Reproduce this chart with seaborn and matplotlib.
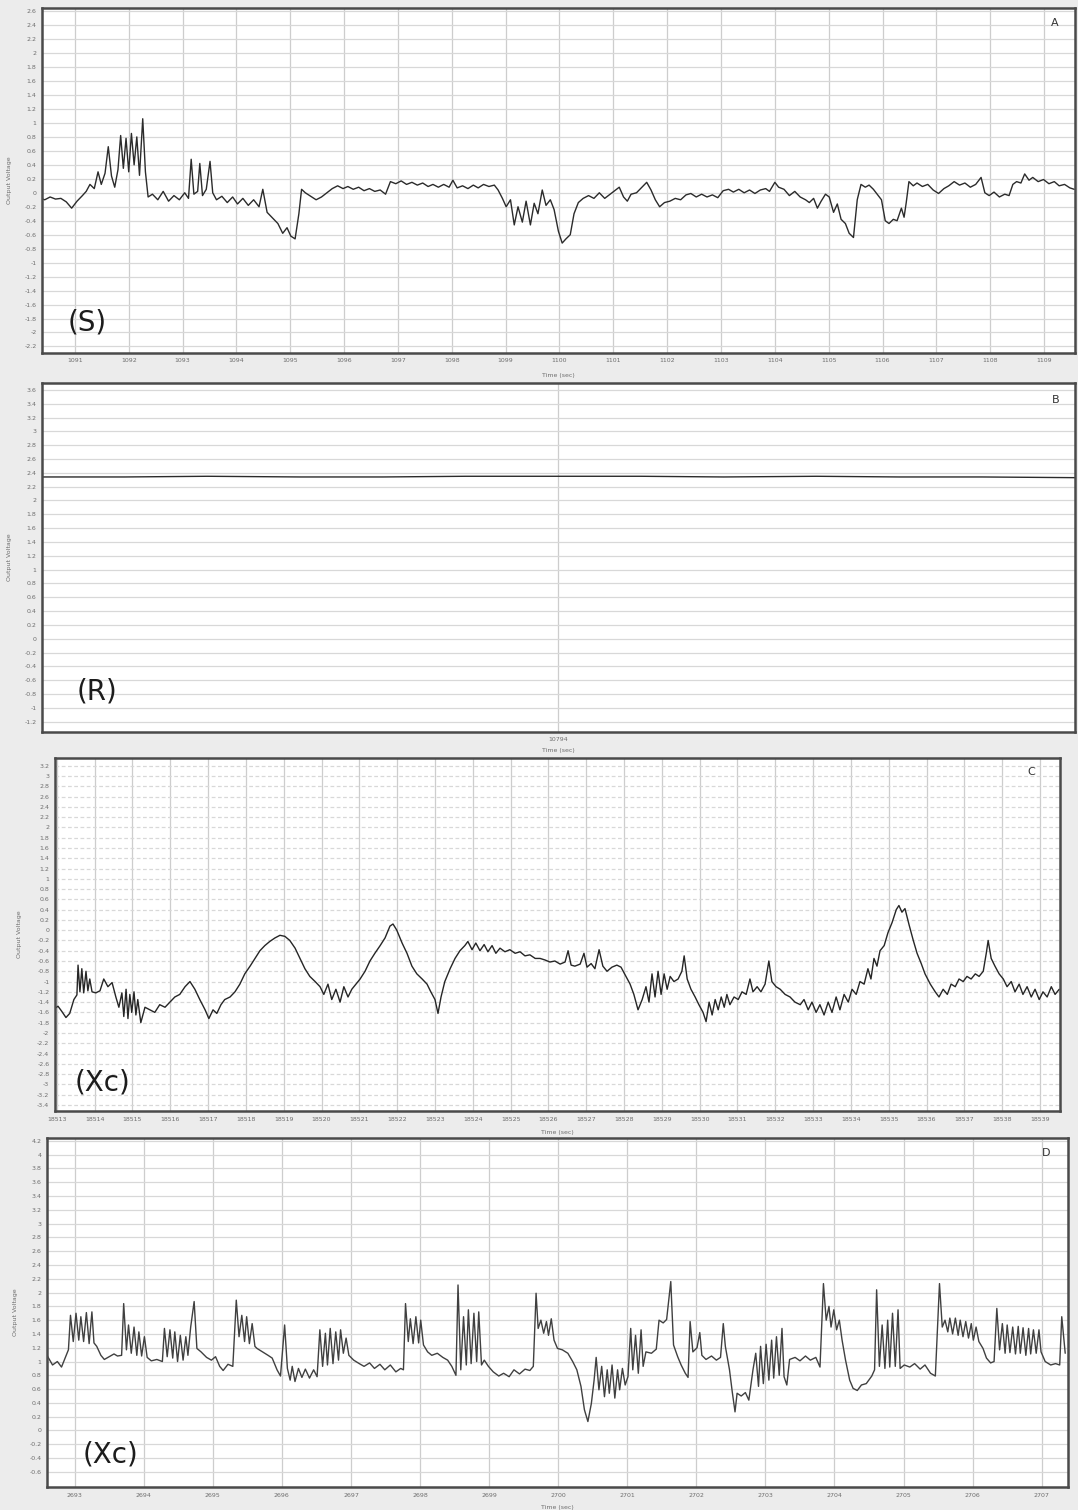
import numpy as np
import matplotlib
matplotlib.use("Agg")
import matplotlib.pyplot as plt
from matplotlib.ticker import FuncFormatter
import seaborn as sns

# ---- panel A: (S) ----
s_time = [1090.32, 1090.44, 1090.54, 1090.64, 1090.74, 1090.84, 1090.94, 1091.04, 1091.14, 1091.21,
          1091.28, 1091.36, 1091.43, 1091.49, 1091.56, 1091.62, 1091.68, 1091.74, 1091.80, 1091.85,
          1091.90, 1091.95, 1092.00, 1092.05, 1092.10, 1092.15, 1092.20, 1092.26, 1092.31, 1092.36,
          1092.44, 1092.54, 1092.64, 1092.74, 1092.84, 1092.94, 1093.04, 1093.11, 1093.16, 1093.21,
          1093.28, 1093.32, 1093.37, 1093.44, 1093.51, 1093.56, 1093.63, 1093.73, 1093.83, 1093.93,
          1094.02, 1094.12, 1094.22, 1094.32, 1094.42, 1094.49, 1094.57, 1094.67, 1094.77, 1094.86,
          1094.94, 1095.01, 1095.09, 1095.16, 1095.21, 1095.28, 1095.38, 1095.48, 1095.58, 1095.68,
          1095.78, 1095.88, 1095.98, 1096.07, 1096.17, 1096.27, 1096.37, 1096.47, 1096.57, 1096.67,
          1096.77, 1096.86, 1096.96, 1097.06, 1097.16, 1097.26, 1097.36, 1097.46, 1097.56, 1097.65,
          1097.75, 1097.85, 1097.95, 1098.02, 1098.10, 1098.20, 1098.30, 1098.40, 1098.49, 1098.59,
          1098.69, 1098.79, 1098.86, 1098.94, 1099.01, 1099.09, 1099.16, 1099.23, 1099.31, 1099.38,
          1099.46, 1099.53, 1099.60, 1099.68, 1099.75, 1099.83, 1099.90, 1099.98, 1100.05, 1100.12,
          1100.20, 1100.27, 1100.35, 1100.44, 1100.54, 1100.64, 1100.74, 1100.84, 1100.94, 1101.04,
          1101.11, 1101.19, 1101.26, 1101.33, 1101.43, 1101.53, 1101.62, 1101.70, 1101.78, 1101.86,
          1101.95, 1102.05, 1102.15, 1102.25, 1102.35, 1102.44, 1102.54, 1102.64, 1102.74, 1102.84,
          1102.94, 1103.04, 1103.14, 1103.23, 1103.33, 1103.43, 1103.53, 1103.63, 1103.73, 1103.83,
          1103.90, 1104.00, 1104.07, 1104.17, 1104.27, 1104.37, 1104.47, 1104.57, 1104.64, 1104.72,
          1104.79, 1104.86, 1104.94, 1105.01, 1105.09, 1105.16, 1105.23, 1105.31, 1105.38, 1105.46,
          1105.53, 1105.60, 1105.68, 1105.75, 1105.83, 1105.90, 1105.98, 1106.05, 1106.12, 1106.20,
          1106.27, 1106.35, 1106.40, 1106.44, 1106.49, 1106.57, 1106.64, 1106.74, 1106.84, 1106.94,
          1107.04, 1107.14, 1107.23, 1107.33, 1107.43, 1107.53, 1107.63, 1107.73, 1107.83, 1107.90,
          1107.98, 1108.07, 1108.17, 1108.27, 1108.35, 1108.42, 1108.49, 1108.57, 1108.64, 1108.72,
          1108.79, 1108.89, 1108.99, 1109.09, 1109.19, 1109.28, 1109.38, 1109.48, 1109.56]
s_volt = [-0.07, -0.10, -0.06, -0.09, -0.08, -0.13, -0.22, -0.12, -0.04, 0.02,
          0.12, 0.06, 0.30, 0.12, 0.28, 0.66, 0.24, 0.08, 0.33, 0.82,
          0.35, 0.78, 0.30, 0.85, 0.40, 0.80, 0.25, 1.06, 0.30, -0.06,
          -0.02, -0.10, 0.02, -0.12, -0.04, -0.10, 0.00, -0.08, 0.48, -0.02,
          0.02, 0.42, -0.04, 0.05, 0.45, 0.00, -0.10, -0.05, -0.14, -0.06,
          -0.16, -0.08, -0.18, -0.10, -0.20, 0.05, -0.28, -0.36, -0.44, -0.58,
          -0.50, -0.62, -0.66, -0.30, 0.05, 0.00, -0.05, -0.10, -0.06, 0.00,
          0.06, 0.10, 0.06, 0.09, 0.05, 0.08, 0.03, 0.06, 0.02, 0.04,
          -0.02, 0.16, 0.13, 0.17, 0.12, 0.15, 0.11, 0.14, 0.09, 0.12,
          0.08, 0.12, 0.08, 0.18, 0.07, 0.10, 0.06, 0.11, 0.07, 0.12,
          0.09, 0.11, 0.04, -0.08, -0.20, -0.10, -0.46, -0.20, -0.42, -0.12,
          -0.46, -0.15, -0.30, 0.04, -0.18, -0.10, -0.24, -0.55, -0.72, -0.66,
          -0.60, -0.30, -0.14, -0.08, -0.04, -0.08, 0.00, -0.08, -0.02, 0.04,
          0.08, -0.06, -0.12, -0.02, 0.00, 0.08, 0.15, 0.04, -0.10, -0.20,
          -0.14, -0.12, -0.08, -0.10, -0.03, -0.01, -0.06, -0.02, -0.06, -0.03,
          -0.07, 0.03, 0.05, 0.01, 0.05, 0.00, 0.04, -0.01, 0.04, 0.06,
          0.02, 0.15, 0.08, 0.05, -0.04, 0.02, -0.06, -0.10, -0.14, -0.08,
          -0.22, -0.12, -0.02, -0.06, -0.28, -0.16, -0.38, -0.44, -0.58, -0.64,
          -0.10, 0.12, 0.08, 0.11, 0.05, -0.02, -0.10, -0.40, -0.44, -0.38,
          -0.40, -0.22, -0.35, -0.14, 0.16, 0.10, 0.14, 0.09, 0.12, 0.04,
          -0.01, 0.06, 0.10, 0.16, 0.11, 0.14, 0.08, 0.12, 0.22, 0.00,
          -0.04, 0.01, -0.06, -0.02, -0.04, 0.12, 0.16, 0.14, 0.27, 0.18,
          0.22, 0.16, 0.19, 0.13, 0.16, 0.10, 0.12, 0.07, 0.05]

# ---- panel B: (R) ----
r_time = [10793.50, 10793.58, 10793.66, 10793.75, 10793.83, 10793.91, 10794.00,
          10794.08, 10794.16, 10794.25, 10794.33, 10794.41, 10794.50]
r_volt = [2.34, 2.34, 2.35, 2.34, 2.34, 2.35, 2.35, 2.35, 2.34, 2.35, 2.34, 2.34, 2.33]

# ---- panel C: (Xc) ----
xc1_time = [18512.95, 18513.03, 18513.13, 18513.24, 18513.34, 18513.45, 18513.53, 18513.56, 18513.61, 18513.66,
            18513.71, 18513.77, 18513.82, 18513.87, 18513.93, 18514.03, 18514.14, 18514.24, 18514.35, 18514.46,
            18514.56, 18514.64, 18514.72, 18514.77, 18514.83, 18514.88, 18514.93, 18514.98, 18515.04, 18515.09,
            18515.14, 18515.22, 18515.33, 18515.46, 18515.59, 18515.72, 18515.86, 18515.99, 18516.12, 18516.25,
            18516.39, 18516.52, 18516.65, 18516.78, 18516.92, 18517.02, 18517.13, 18517.23, 18517.34, 18517.44,
            18517.58, 18517.71, 18517.84, 18517.97, 18518.11, 18518.24, 18518.37, 18518.50, 18518.63, 18518.77,
            18518.90, 18519.03, 18519.16, 18519.30, 18519.43, 18519.56, 18519.69, 18519.83, 18519.96, 18520.06,
            18520.17, 18520.27, 18520.38, 18520.49, 18520.59, 18520.70, 18520.80, 18520.91, 18521.02, 18521.15,
            18521.28, 18521.41, 18521.55, 18521.68, 18521.81, 18521.89, 18521.99, 18522.13, 18522.26, 18522.39,
            18522.52, 18522.66, 18522.79, 18522.89, 18523.00, 18523.08, 18523.16, 18523.26, 18523.40, 18523.53,
            18523.66, 18523.79, 18523.87, 18523.98, 18524.08, 18524.19, 18524.30, 18524.40, 18524.51, 18524.61,
            18524.72, 18524.85, 18524.98, 18525.12, 18525.25, 18525.38, 18525.51, 18525.65, 18525.78, 18525.91,
            18526.04, 18526.17, 18526.31, 18526.44, 18526.52, 18526.60, 18526.70, 18526.84, 18526.94, 18527.02,
            18527.13, 18527.23, 18527.34, 18527.44, 18527.55, 18527.68, 18527.81, 18527.92, 18528.05, 18528.16,
            18528.26, 18528.37, 18528.48, 18528.58, 18528.66, 18528.74, 18528.82, 18528.90, 18528.98, 18529.06,
            18529.14, 18529.22, 18529.32, 18529.43, 18529.53, 18529.59, 18529.67, 18529.77, 18529.88, 18529.98,
            18530.09, 18530.17, 18530.25, 18530.33, 18530.41, 18530.49, 18530.57, 18530.65, 18530.72, 18530.80,
            18530.91, 18531.02, 18531.12, 18531.23, 18531.33, 18531.41, 18531.52, 18531.62, 18531.73, 18531.83,
            18531.91, 18532.02, 18532.13, 18532.26, 18532.39, 18532.52, 18532.66, 18532.76, 18532.87, 18532.97,
            18533.08, 18533.18, 18533.29, 18533.40, 18533.50, 18533.61, 18533.71, 18533.82, 18533.93, 18534.03,
            18534.14, 18534.24, 18534.35, 18534.45, 18534.53, 18534.61, 18534.69, 18534.77, 18534.88, 18534.98,
            18535.09, 18535.20, 18535.27, 18535.35, 18535.43, 18535.54, 18535.65, 18535.75, 18535.86, 18535.96,
            18536.10, 18536.23, 18536.33, 18536.44, 18536.55, 18536.65, 18536.76, 18536.86, 18536.97, 18537.07,
            18537.18, 18537.29, 18537.39, 18537.50, 18537.58, 18537.63, 18537.71, 18537.81, 18537.92, 18538.03,
            18538.13, 18538.24, 18538.34, 18538.45, 18538.55, 18538.66, 18538.77, 18538.87, 18538.98, 18539.08,
            18539.19, 18539.30, 18539.40, 18539.51]
xc1_volt = [-1.52, -1.48, -1.58, -1.70, -1.62, -1.35, -1.26, -0.68, -1.20, -0.75,
            -1.22, -0.80, -1.18, -0.95, -1.20, -1.22, -1.18, -0.95, -1.10, -1.02,
            -1.30, -1.50, -1.22, -1.68, -1.15, -1.72, -1.25, -1.60, -1.20, -1.65,
            -1.35, -1.80, -1.50, -1.55, -1.60, -1.45, -1.50, -1.40, -1.30, -1.25,
            -1.10, -1.00, -1.15, -1.35, -1.55, -1.72, -1.55, -1.62, -1.45, -1.35,
            -1.30, -1.20, -1.05, -0.85, -0.70, -0.55, -0.40, -0.30, -0.22, -0.15,
            -0.10, -0.12, -0.20, -0.35, -0.55, -0.75, -0.90, -1.00, -1.10, -1.25,
            -1.05, -1.35, -1.15, -1.40, -1.10, -1.30, -1.15, -1.05, -0.95, -0.80,
            -0.60, -0.45, -0.30, -0.15, 0.08, 0.12, 0.00, -0.25, -0.45, -0.70,
            -0.85, -0.95, -1.05, -1.20, -1.35, -1.62, -1.30, -1.00, -0.75, -0.55,
            -0.40, -0.30, -0.22, -0.38, -0.25, -0.40, -0.28, -0.42, -0.30, -0.45,
            -0.35, -0.42, -0.38, -0.45, -0.42, -0.50, -0.48, -0.55, -0.55, -0.58,
            -0.62, -0.60, -0.66, -0.62, -0.40, -0.68, -0.70, -0.66, -0.45, -0.72,
            -0.65, -0.75, -0.38, -0.70, -0.80, -0.72, -0.68, -0.72, -0.90, -1.05,
            -1.25, -1.55, -1.35, -1.10, -1.40, -0.85, -1.30, -0.80, -1.25, -0.85,
            -1.15, -0.90, -1.00, -0.95, -0.80, -0.50, -0.95, -1.15, -1.30, -1.45,
            -1.60, -1.78, -1.40, -1.65, -1.35, -1.55, -1.30, -1.50, -1.25, -1.45,
            -1.30, -1.35, -1.20, -1.25, -0.95, -1.20, -1.10, -1.20, -1.05, -0.60,
            -1.00, -1.10, -1.15, -1.25, -1.30, -1.40, -1.45, -1.35, -1.55, -1.40,
            -1.60, -1.45, -1.65, -1.40, -1.60, -1.30, -1.55, -1.25, -1.40, -1.15,
            -1.25, -1.00, -1.05, -0.75, -0.95, -0.55, -0.70, -0.40, -0.30, -0.05,
            0.15, 0.40, 0.48, 0.35, 0.42, 0.10, -0.20, -0.45, -0.65, -0.85,
            -1.05, -1.20, -1.30, -1.15, -1.25, -1.05, -1.10, -0.95, -1.00, -0.90,
            -0.95, -0.85, -0.90, -0.80, -0.45, -0.20, -0.55, -0.70, -0.85, -0.95,
            -1.10, -1.00, -1.20, -1.05, -1.25, -1.10, -1.30, -1.15, -1.35, -1.20,
            -1.30, -1.10, -1.25, -1.15]

# ---- panel D: (Xc) ----
xc2_time = [2692.60, 2692.68, 2692.75, 2692.81, 2692.87, 2692.91, 2692.94, 2692.98, 2693.02, 2693.06,
            2693.09, 2693.13, 2693.17, 2693.21, 2693.25, 2693.28, 2693.32, 2693.38, 2693.43, 2693.50,
            2693.57, 2693.62, 2693.68, 2693.71, 2693.75, 2693.78, 2693.82, 2693.86, 2693.90, 2693.93,
            2693.97, 2694.01, 2694.05, 2694.11, 2694.19, 2694.27, 2694.30, 2694.34, 2694.38, 2694.42,
            2694.45, 2694.49, 2694.53, 2694.57, 2694.61, 2694.64, 2694.68, 2694.73, 2694.77, 2694.83,
            2694.91, 2694.98, 2695.04, 2695.10, 2695.15, 2695.22, 2695.29, 2695.34, 2695.38, 2695.42,
            2695.46, 2695.49, 2695.53, 2695.57, 2695.61, 2695.64, 2695.72, 2695.80, 2695.86, 2695.93,
            2695.98, 2696.04, 2696.08, 2696.12, 2696.15, 2696.19, 2696.24, 2696.29, 2696.34, 2696.40,
            2696.46, 2696.51, 2696.55, 2696.59, 2696.63, 2696.66, 2696.70, 2696.74, 2696.78, 2696.82,
            2696.85, 2696.89, 2696.93, 2696.97, 2697.04, 2697.12, 2697.19, 2697.27, 2697.34, 2697.42,
            2697.49, 2697.57, 2697.65, 2697.72, 2697.76, 2697.79, 2697.83, 2697.86, 2697.90, 2697.94,
            2697.98, 2698.01, 2698.05, 2698.11, 2698.17, 2698.25, 2698.33, 2698.40, 2698.46, 2698.52,
            2698.55, 2698.59, 2698.63, 2698.67, 2698.70, 2698.74, 2698.78, 2698.82, 2698.85, 2698.89,
            2698.93, 2698.99, 2699.06, 2699.14, 2699.21, 2699.29, 2699.36, 2699.44, 2699.52, 2699.59,
            2699.64, 2699.68, 2699.71, 2699.75, 2699.79, 2699.83, 2699.86, 2699.90, 2699.94, 2699.99,
            2700.06, 2700.14, 2700.21, 2700.27, 2700.33, 2700.38, 2700.43, 2700.48, 2700.52, 2700.55,
            2700.59, 2700.63, 2700.67, 2700.71, 2700.74, 2700.78, 2700.82, 2700.86, 2700.89, 2700.93,
            2700.97, 2701.01, 2701.05, 2701.08, 2701.12, 2701.16, 2701.20, 2701.23, 2701.27, 2701.35,
            2701.42, 2701.46, 2701.52, 2701.57, 2701.63, 2701.67, 2701.73, 2701.78, 2701.84, 2701.88,
            2701.91, 2701.95, 2702.01, 2702.05, 2702.08, 2702.14, 2702.22, 2702.29, 2702.35, 2702.39,
            2702.42, 2702.48, 2702.52, 2702.56, 2702.59, 2702.65, 2702.71, 2702.76, 2702.82, 2702.86,
            2702.90, 2702.93, 2702.97, 2703.01, 2703.05, 2703.09, 2703.12, 2703.16, 2703.20, 2703.24,
            2703.27, 2703.31, 2703.35, 2703.43, 2703.50, 2703.58, 2703.65, 2703.73, 2703.79, 2703.84,
            2703.88, 2703.92, 2703.95, 2703.99, 2704.03, 2704.07, 2704.11, 2704.16, 2704.22, 2704.27,
            2704.33, 2704.39, 2704.46, 2704.54, 2704.58, 2704.61, 2704.65, 2704.69, 2704.73, 2704.77,
            2704.80, 2704.84, 2704.88, 2704.92, 2704.95, 2705.01, 2705.09, 2705.16, 2705.24, 2705.31,
            2705.39, 2705.46, 2705.52, 2705.56, 2705.60, 2705.64, 2705.67, 2705.71, 2705.75, 2705.79,
            2705.82, 2705.86, 2705.90, 2705.94, 2705.98, 2706.01, 2706.05, 2706.09, 2706.15, 2706.20,
            2706.26, 2706.31, 2706.35, 2706.39, 2706.43, 2706.47, 2706.50, 2706.54, 2706.58, 2706.62,
            2706.66, 2706.69, 2706.73, 2706.77, 2706.81, 2706.84, 2706.88, 2706.92, 2706.96, 2706.99,
            2707.05, 2707.13, 2707.20, 2707.26, 2707.29, 2707.34]
xc2_volt = [1.09, 0.95, 1.00, 0.92, 1.07, 1.17, 1.67, 1.29, 1.70, 1.31,
            1.65, 1.29, 1.71, 1.26, 1.72, 1.27, 1.22, 1.09, 1.03, 1.07,
            1.11, 1.08, 1.09, 1.84, 1.17, 1.53, 1.12, 1.50, 1.09, 1.43,
            1.08, 1.36, 1.06, 1.01, 1.03, 1.00, 1.48, 1.07, 1.46, 1.05,
            1.43, 1.00, 1.38, 1.02, 1.36, 1.09, 1.50, 1.87, 1.19, 1.14,
            1.06, 1.02, 1.07, 0.93, 0.87, 0.96, 0.93, 1.89, 1.36, 1.67,
            1.29, 1.65, 1.26, 1.55, 1.22, 1.19, 1.14, 1.09, 1.05, 0.88,
            0.79, 1.53, 0.90, 0.73, 0.93, 0.71, 0.90, 0.77, 0.89, 0.76,
            0.88, 0.78, 1.46, 0.93, 1.41, 0.95, 1.48, 0.97, 1.43, 1.02,
            1.46, 1.12, 1.34, 1.09, 1.02, 0.97, 0.93, 0.98, 0.90, 0.96,
            0.88, 0.95, 0.85, 0.90, 0.88, 1.84, 1.29, 1.62, 1.26, 1.65,
            1.27, 1.60, 1.24, 1.14, 1.09, 1.12, 1.06, 1.02, 0.93, 0.80,
            2.11, 0.88, 1.65, 0.95, 1.75, 0.97, 1.70, 1.00, 1.72, 0.95,
            1.02, 0.93, 0.85, 0.79, 0.83, 0.78, 0.88, 0.82, 0.89, 0.87,
            0.93, 1.99, 1.48, 1.60, 1.41, 1.58, 1.38, 1.62, 1.31, 1.19,
            1.17, 1.12, 1.00, 0.88, 0.64, 0.30, 0.13, 0.39, 0.73, 1.06,
            0.59, 0.93, 0.49, 0.88, 0.54, 0.95, 0.47, 0.88, 0.59, 0.90,
            0.66, 0.78, 1.48, 0.88, 1.38, 0.83, 1.46, 0.93, 1.14, 1.12,
            1.18, 1.60, 1.56, 1.61, 2.16, 1.24, 1.07, 0.95, 0.83, 0.77,
            1.58, 1.14, 1.20, 1.42, 1.09, 1.03, 1.08, 1.02, 1.06, 1.55,
            1.22, 0.88, 0.56, 0.27, 0.54, 0.50, 0.55, 0.44, 0.88, 1.12,
            0.64, 1.22, 0.68, 1.25, 0.73, 1.31, 0.76, 1.36, 0.80, 1.48,
            0.78, 0.66, 1.03, 1.06, 1.01, 1.08, 1.02, 1.06, 0.92, 2.13,
            1.60, 1.80, 1.50, 1.75, 1.46, 1.60, 1.31, 1.02, 0.73, 0.61,
            0.58, 0.66, 0.68, 0.79, 0.88, 2.04, 0.93, 1.53, 0.90, 1.60,
            0.92, 1.70, 0.93, 1.75, 0.90, 0.95, 0.92, 0.97, 0.89, 0.95,
            0.83, 0.79, 2.13, 1.50, 1.60, 1.43, 1.63, 1.40, 1.63, 1.38,
            1.60, 1.36, 1.58, 1.34, 1.55, 1.31, 1.50, 1.29, 1.19, 1.05,
            0.98, 1.00, 1.77, 1.17, 1.55, 1.12, 1.53, 1.13, 1.50, 1.11,
            1.51, 1.12, 1.49, 1.09, 1.48, 1.11, 1.46, 1.12, 1.46, 1.14,
            1.00, 0.95, 0.97, 0.95, 1.65, 1.12]

TAG_FONT = 20
LABEL_GREY = "#6e6e6e"


def volt_label(v, _):
    v = round(v, 1)
    if v == 0:
        return "0"
    return f"{v:g}"


def draw_trace(ax, times, volts, xlim, ylim, xticks, yticks, letter, letter_pos,
               tag, tag_pos, ylab_x, xlab_y, color="#2b2b2b", grid_ls="-"):
    sns.lineplot(x=times, y=volts, ax=ax, color=color, linewidth=1.0,
                 estimator=None, sort=False)
    ax.set_xlim(*xlim)
    ax.set_ylim(*ylim)
    ax.set_xticks(xticks)
    ax.set_yticks(yticks)
    ax.yaxis.set_major_formatter(FuncFormatter(volt_label))
    ax.xaxis.set_major_formatter(FuncFormatter(lambda v, _: f"{v:.0f}"))
    ax.grid(axis="y", color="#d8d8d8", linewidth=0.9, linestyle=grid_ls)
    ax.grid(axis="x", color="#cdcdcd", linewidth=0.9)
    ax.set_axisbelow(True)
    ax.set_facecolor("white")
    ax.tick_params(labelsize=4.5, labelcolor=LABEL_GREY, length=0, pad=4)
    for sp in ax.spines.values():
        sp.set_visible(True)
        sp.set_color("#4a4a4a")
        sp.set_linewidth(1.8)
    ax.set_ylabel("Output Voltage", fontsize=4.5, color=LABEL_GREY)
    ax.yaxis.set_label_coords(ylab_x, 0.5)
    ax.set_xlabel("Time (sec)", fontsize=4.5, color=LABEL_GREY)
    ax.xaxis.set_label_coords(0.5, xlab_y)
    ax.text(letter_pos[0], letter_pos[1], letter, transform=ax.transAxes,
            fontsize=8, ha="center", va="center", color="#333333")
    ax.text(tag_pos[0], tag_pos[1], tag, transform=ax.transAxes,
            fontsize=TAG_FONT, ha="center", va="center", color="#1c1c1c")


sns.set_style("white")
plt.rcParams["font.family"] = ["DejaVu Sans"]

fig = plt.figure(figsize=(10.78, 15.10), dpi=100, facecolor="#ececec")

ax_s = fig.add_axes([0.039, 0.7664, 0.958, 0.2285])
ax_r = fig.add_axes([0.039, 0.5154, 0.958, 0.2310])
ax_x1 = fig.add_axes([0.051, 0.2642, 0.9323, 0.2338])
ax_x2 = fig.add_axes([0.0436, 0.0152, 0.9471, 0.2311])

draw_trace(ax_s, s_time, s_volt, (1090.39, 1109.57), (-2.29, 2.65),
           np.arange(1091, 1110), np.round(np.arange(-22, 27, 2) * 0.1, 1),
           "A", (0.981, 0.957), "(S)", (0.044, 0.087), -0.029, -0.058)
draw_trace(ax_r, r_time, r_volt, (10793.5, 10794.5), (-1.345, 3.70),
           [10794], np.round(np.arange(-12, 37, 2) * 0.1, 1),
           "B", (0.982, 0.951), "(R)", (0.053, 0.114), -0.029, -0.047)
draw_trace(ax_x1, xc1_time, xc1_volt, (18512.95, 18539.53), (-3.52, 3.35),
           np.arange(18513, 18540), np.round(np.arange(-34, 33, 2) * 0.1, 1),
           "C", (0.971, 0.960), "(Xc)", (0.047, 0.082), -0.033, -0.054,
           color="#262626", grid_ls=(0, (3, 2)))
draw_trace(ax_x2, xc2_time, xc2_volt, (2692.6, 2707.38), (-0.82, 4.24),
           np.arange(2693, 2708), np.round(np.arange(-6, 43, 2) * 0.1, 1),
           "D", (0.979, 0.957), "(Xc)", (0.062, 0.092), -0.028, -0.052,
           color="#404040")

fig.savefig("out.png", dpi=100, facecolor=fig.get_facecolor())
